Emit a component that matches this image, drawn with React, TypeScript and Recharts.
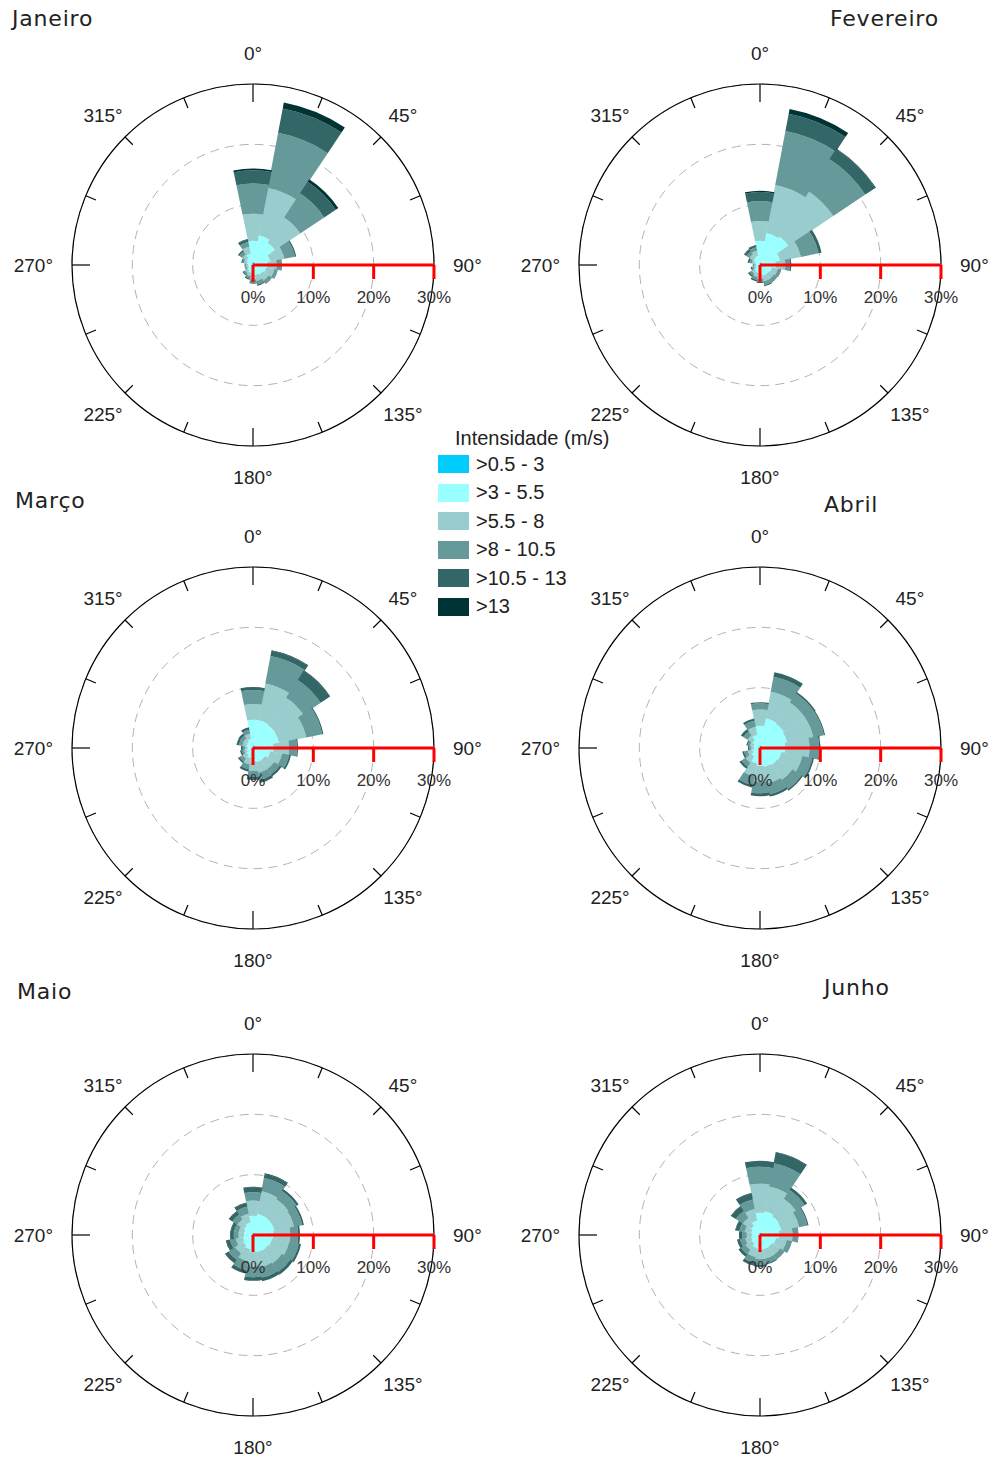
import React from "react";
import {
  RadialBarChart,
  RadialBar,
  PolarAngleAxis,
  PolarRadiusAxis,
  PolarGrid,
} from "recharts";

// 16 wind directions, clockwise from north
const directions = ["N", "NNE", "NE", "ENE", "E", "ESE", "SE", "SSE", "S", "SSW", "SW", "WSW", "W", "WNW", "NW", "NNW"];
const compassLabels = ["0°", "", "45°", "", "90°", "", "135°", "", "180°", "", "225°", "", "270°", "", "315°", ""];

const speedClasses = [">0.5 - 3", ">3 - 5.5", ">5.5 - 8", ">8 - 10.5", ">10.5 - 13", ">13"];
const classColors = ["#00ccff", "#99ffff", "#99cccc", "#669999", "#336666", "#003333"];

// frequency (%) per direction, one column per speed class
const janeiro = [
  [0.5, 3.5, 4.5, 5.0, 2.2, 0.3],
  [0.5, 4.5, 8.0, 9.3, 4.1, 1.0],
  [0.4, 4.0, 5.0, 4.8, 2.3, 0.5],
  [0.4, 2.5, 2.4, 1.8, 0.2, 0],
  [0.4, 2.0, 1.5, 0.8, 0.1, 0],
  [0.4, 1.8, 1.4, 0.6, 0, 0],
  [0.4, 1.5, 1.2, 0.6, 0.1, 0],
  [0.4, 1.3, 1.0, 0.6, 0.2, 0],
  [0.4, 1.2, 0.8, 0.5, 0.2, 0],
  [0.3, 1.0, 0.6, 0.4, 0.2, 0],
  [0.3, 0.8, 0.5, 0.3, 0.2, 0],
  [0.3, 0.5, 0.3, 0.2, 0.1, 0],
  [0.3, 0.5, 0.3, 0.2, 0.1, 0],
  [0.3, 0.7, 0.5, 0.3, 0.2, 0],
  [0.3, 1.0, 0.8, 0.6, 0.3, 0],
  [0.4, 1.5, 1.2, 0.8, 0.4, 0.1],
];

const fevereiro = [
  [0.4, 3.6, 3.3, 3.3, 1.5, 0.2],
  [0.5, 4.9, 8.1, 9.1, 2.9, 0.8],
  [0.4, 5.3, 8.9, 6.4, 2.0, 0.1],
  [0.4, 3.0, 3.5, 3.0, 0.5, 0],
  [0.4, 2.2, 1.6, 0.8, 0.2, 0],
  [0.4, 1.6, 1.0, 0.5, 0.1, 0],
  [0.4, 1.4, 1.0, 0.6, 0.1, 0],
  [0.4, 1.4, 1.0, 0.6, 0.2, 0],
  [0.3, 1.2, 0.8, 0.5, 0.2, 0],
  [0.3, 1.0, 0.7, 0.5, 0.3, 0],
  [0.3, 0.8, 0.6, 0.4, 0.3, 0],
  [0.2, 0.5, 0.4, 0.3, 0.2, 0],
  [0.2, 0.4, 0.3, 0.2, 0.1, 0],
  [0.2, 0.7, 0.5, 0.4, 0.3, 0],
  [0.3, 1.0, 0.8, 0.6, 0.4, 0.1],
  [0.3, 1.2, 0.9, 0.6, 0.3, 0.1],
];

const marco = [
  [0.4, 4.3, 2.6, 2.3, 0.5, 0],
  [0.5, 4.2, 6.2, 4.6, 0.9, 0.1],
  [0.4, 4.1, 5.5, 3.5, 1.8, 0.1],
  [0.4, 4.0, 4.6, 2.7, 0.2, 0],
  [0.4, 3.0, 2.6, 1.3, 0.2, 0],
  [0.4, 2.5, 2.0, 1.2, 0.3, 0],
  [0.4, 2.0, 1.8, 1.1, 0.4, 0],
  [0.4, 2.0, 1.8, 1.2, 0.5, 0],
  [0.4, 1.8, 1.6, 1.0, 0.5, 0],
  [0.3, 1.4, 1.1, 0.8, 0.4, 0],
  [0.3, 1.0, 0.8, 0.6, 0.3, 0],
  [0.3, 0.7, 0.5, 0.4, 0.3, 0],
  [0.3, 0.6, 0.4, 0.4, 0.3, 0],
  [0.3, 0.8, 0.7, 0.6, 0.4, 0],
  [0.3, 0.9, 0.7, 0.6, 0.4, 0],
  [0.3, 1.2, 0.9, 0.7, 0.4, 0],
];

const abril = [
  [0.4, 3.3, 2.7, 1.0, 0.2, 0],
  [0.4, 4.6, 4.5, 2.5, 0.8, 0],
  [0.4, 4.4, 4.2, 1.8, 0.3, 0],
  [0.4, 4.2, 4.4, 1.8, 0.2, 0],
  [0.4, 3.8, 4.0, 1.6, 0.2, 0],
  [0.4, 3.2, 3.5, 1.7, 0.3, 0],
  [0.4, 3.0, 3.0, 1.8, 0.3, 0],
  [0.4, 2.8, 2.8, 1.8, 0.4, 0],
  [0.4, 2.6, 2.6, 1.9, 0.5, 0],
  [0.4, 2.2, 2.2, 1.5, 0.4, 0],
  [0.3, 1.4, 1.2, 0.8, 0.4, 0],
  [0.3, 1.0, 0.8, 0.6, 0.3, 0],
  [0.3, 0.7, 0.5, 0.3, 0.2, 0],
  [0.3, 0.8, 0.6, 0.4, 0.2, 0],
  [0.3, 1.2, 1.0, 0.8, 0.5, 0],
  [0.4, 1.8, 1.4, 1.0, 0.4, 0],
];

const maio = [
  [0.4, 2.8, 2.5, 1.4, 0.8, 0.1],
  [0.4, 3.2, 3.8, 2.2, 0.7, 0.1],
  [0.4, 3.2, 3.5, 1.6, 0.4, 0],
  [0.4, 3.2, 3.3, 1.4, 0.3, 0],
  [0.4, 3.0, 2.8, 1.3, 0.3, 0],
  [0.4, 2.8, 2.9, 1.6, 0.4, 0],
  [0.4, 2.6, 2.7, 1.7, 0.5, 0],
  [0.4, 2.5, 2.6, 1.7, 0.6, 0],
  [0.4, 2.4, 2.4, 1.8, 0.6, 0],
  [0.4, 2.0, 2.0, 1.5, 0.6, 0],
  [0.3, 1.7, 1.6, 1.3, 0.6, 0.1],
  [0.3, 1.4, 1.2, 1.0, 0.6, 0.1],
  [0.3, 1.2, 0.9, 0.8, 0.5, 0.1],
  [0.3, 1.2, 0.9, 0.8, 0.5, 0.1],
  [0.3, 1.5, 1.3, 1.0, 0.6, 0.1],
  [0.3, 1.8, 1.5, 1.2, 0.6, 0.1],
];

const junho = [
  [0.4, 3.3, 4.8, 2.8, 1.0, 0],
  [0.4, 3.6, 4.2, 3.9, 1.8, 0.1],
  [0.4, 3.3, 3.5, 1.7, 0.5, 0],
  [0.4, 3.2, 3.0, 1.4, 0.2, 0],
  [0.4, 2.8, 2.2, 0.9, 0.1, 0],
  [0.4, 2.3, 1.8, 0.8, 0.1, 0],
  [0.4, 2.0, 1.6, 0.8, 0.1, 0],
  [0.4, 2.0, 1.6, 0.8, 0.2, 0],
  [0.4, 2.0, 1.6, 0.9, 0.4, 0],
  [0.4, 1.8, 1.5, 1.0, 0.5, 0],
  [0.3, 1.4, 1.2, 0.9, 0.5, 0],
  [0.3, 1.2, 1.0, 0.9, 0.5, 0],
  [0.3, 1.0, 0.9, 0.8, 0.5, 0],
  [0.3, 1.2, 1.1, 0.9, 0.6, 0.1],
  [0.3, 1.5, 1.6, 1.4, 0.9, 0.1],
  [0.4, 2.0, 2.0, 1.6, 1.0, 0.1],
];

const OUTER = 181; // 30 %
const CHART_W = 495;
const CHART_H = 464;
const BAND = 360 / directions.length;
const START = 90 - BAND / 2;
const FONT = "'Liberation Sans', Arial, sans-serif";

const toRows = (m: number[][]) =>
  directions.map((d, i) => {
    const row: any = { dir: d };
    m[i].forEach((v, k) => (row["c" + k] = v));
    return row;
  });

// the band scale puts the tick at the band edge, shift to its middle
const makeAngleTick = (cx: number, cy: number) => (props: any) => {
  const { payload, index } = props;
  const a = ((payload.coordinate + BAND / 2) * Math.PI) / 180;
  const ux = Math.cos(a);
  const uy = -Math.sin(a);
  const len = index % 4 === 0 ? 18 : 11;
  const label = compassLabels[index];
  const horizontal = Math.abs(uy) < 0.01;
  const lr = horizontal ? 200 : 212;
  const anchor = horizontal ? (ux > 0 ? "start" : "end") : "middle";
  return (
    <g>
      <line
        x1={cx + ux * OUTER}
        y1={cy + uy * OUTER}
        x2={cx + ux * (OUTER - len)}
        y2={cy + uy * (OUTER - len)}
        stroke="#000"
        strokeWidth={1.2}
      />
      {label && (
        <text
          x={cx + ux * lr}
          y={cy + uy * lr}
          textAnchor={anchor}
          dominantBaseline="central"
          fontSize={19}
          fontFamily={FONT}
          fill="#222"
        >
          {label}
        </text>
      )}
    </g>
  );
};

const RadiusTick = (props: any) => {
  const { x, y, payload } = props;
  return (
    <g>
      <line x1={x} y1={y} x2={x} y2={y + (payload.value === 0 ? 17 : 14)} stroke="#ff0000" strokeWidth={3} />
      <text x={x} y={y + 32} textAnchor="middle" dominantBaseline="central" fontSize={17} fontFamily={FONT} fill="#333">
        {payload.value}%
      </text>
    </g>
  );
};

interface RoseProps {
  values: number[][];
  left: number;
  top: number;
  cx: number;
}

const Rose = ({ values, left, top, cx }: RoseProps) => {
  const cy = 240;
  return (
    <div style={{ position: "absolute", left, top }}>
      <RadialBarChart
        width={CHART_W}
        height={CHART_H}
        cx={cx}
        cy={cy}
        innerRadius={0}
        outerRadius={OUTER}
        startAngle={START}
        endAngle={START - 360}
        layout="centric"
        data={toRows(values)}
        barCategoryGap={0}
        barGap={0}
        margin={{ top: 0, right: 0, bottom: 0, left: 0 }}
      >
        <PolarGrid gridType="circle" radialLines={false} stroke="#b3b3b3" strokeDasharray="9 6" />
        {speedClasses.map((name, k) => (
          <RadialBar
            key={name}
            name={name}
            dataKey={"c" + k}
            stackId="a"
            fill={classColors[k]}
            isAnimationActive={false}
          />
        ))}
        <PolarAngleAxis
          dataKey="dir"
          type="category"
          axisLineType="circle"
          axisLine={{ stroke: "#000", strokeWidth: 1.2 }}
          tickLine={false}
          tick={makeAngleTick(cx, cy)}
        />
        <PolarRadiusAxis
          type="number"
          angle={0}
          domain={[0, 30]}
          tickCount={4}
          axisLine={{ stroke: "#ff0000", strokeWidth: 3 }}
          tick={RadiusTick}
        />
      </RadialBarChart>
    </div>
  );
};

const titleStyle: React.CSSProperties = {
  position: "absolute",
  fontFamily: "'DejaVu Sans', Verdana, sans-serif",
  fontSize: 22,
  letterSpacing: 0.8,
  color: "#222",
  lineHeight: "24px",
  whiteSpace: "nowrap",
};

export default function App() {
  return (
    <div
      style={{
        position: "absolute",
        left: 0,
        top: 0,
        width: 991,
        height: 1459,
        overflow: "hidden",
        background: "#fff",
      }}
    >
      <Rose values={janeiro} left={0} top={25} cx={253} />
      <Rose values={fevereiro} left={496} top={25} cx={264} />
      <Rose values={marco} left={0} top={508} cx={253} />
      <Rose values={abril} left={496} top={508} cx={264} />
      <Rose values={maio} left={0} top={995} cx={253} />
      <Rose values={junho} left={496} top={995} cx={264} />

      <div style={{ ...titleStyle, left: 12, top: 7 }}>Janeiro</div>
      <div style={{ ...titleStyle, left: 830, top: 7 }}>Fevereiro</div>
      <div style={{ ...titleStyle, left: 15, top: 489 }}>Março</div>
      <div style={{ ...titleStyle, left: 824, top: 493 }}>Abril</div>
      <div style={{ ...titleStyle, left: 17, top: 980 }}>Maio</div>
      <div style={{ ...titleStyle, left: 824, top: 976 }}>Junho</div>

      <div style={{ position: "absolute", left: 438, top: 426, fontFamily: FONT, fontSize: 20, color: "#222" }}>
        <div style={{ marginLeft: 17, height: 24, lineHeight: "24px" }}>Intensidade (m/s)</div>
        {speedClasses.map((name, k) => (
          <div key={name} style={{ display: "flex", alignItems: "center", height: 28.5 }}>
            <div style={{ width: 31, height: 18, background: classColors[k] }} />
            <span style={{ marginLeft: 7 }}>{name}</span>
          </div>
        ))}
      </div>
    </div>
  );
}
